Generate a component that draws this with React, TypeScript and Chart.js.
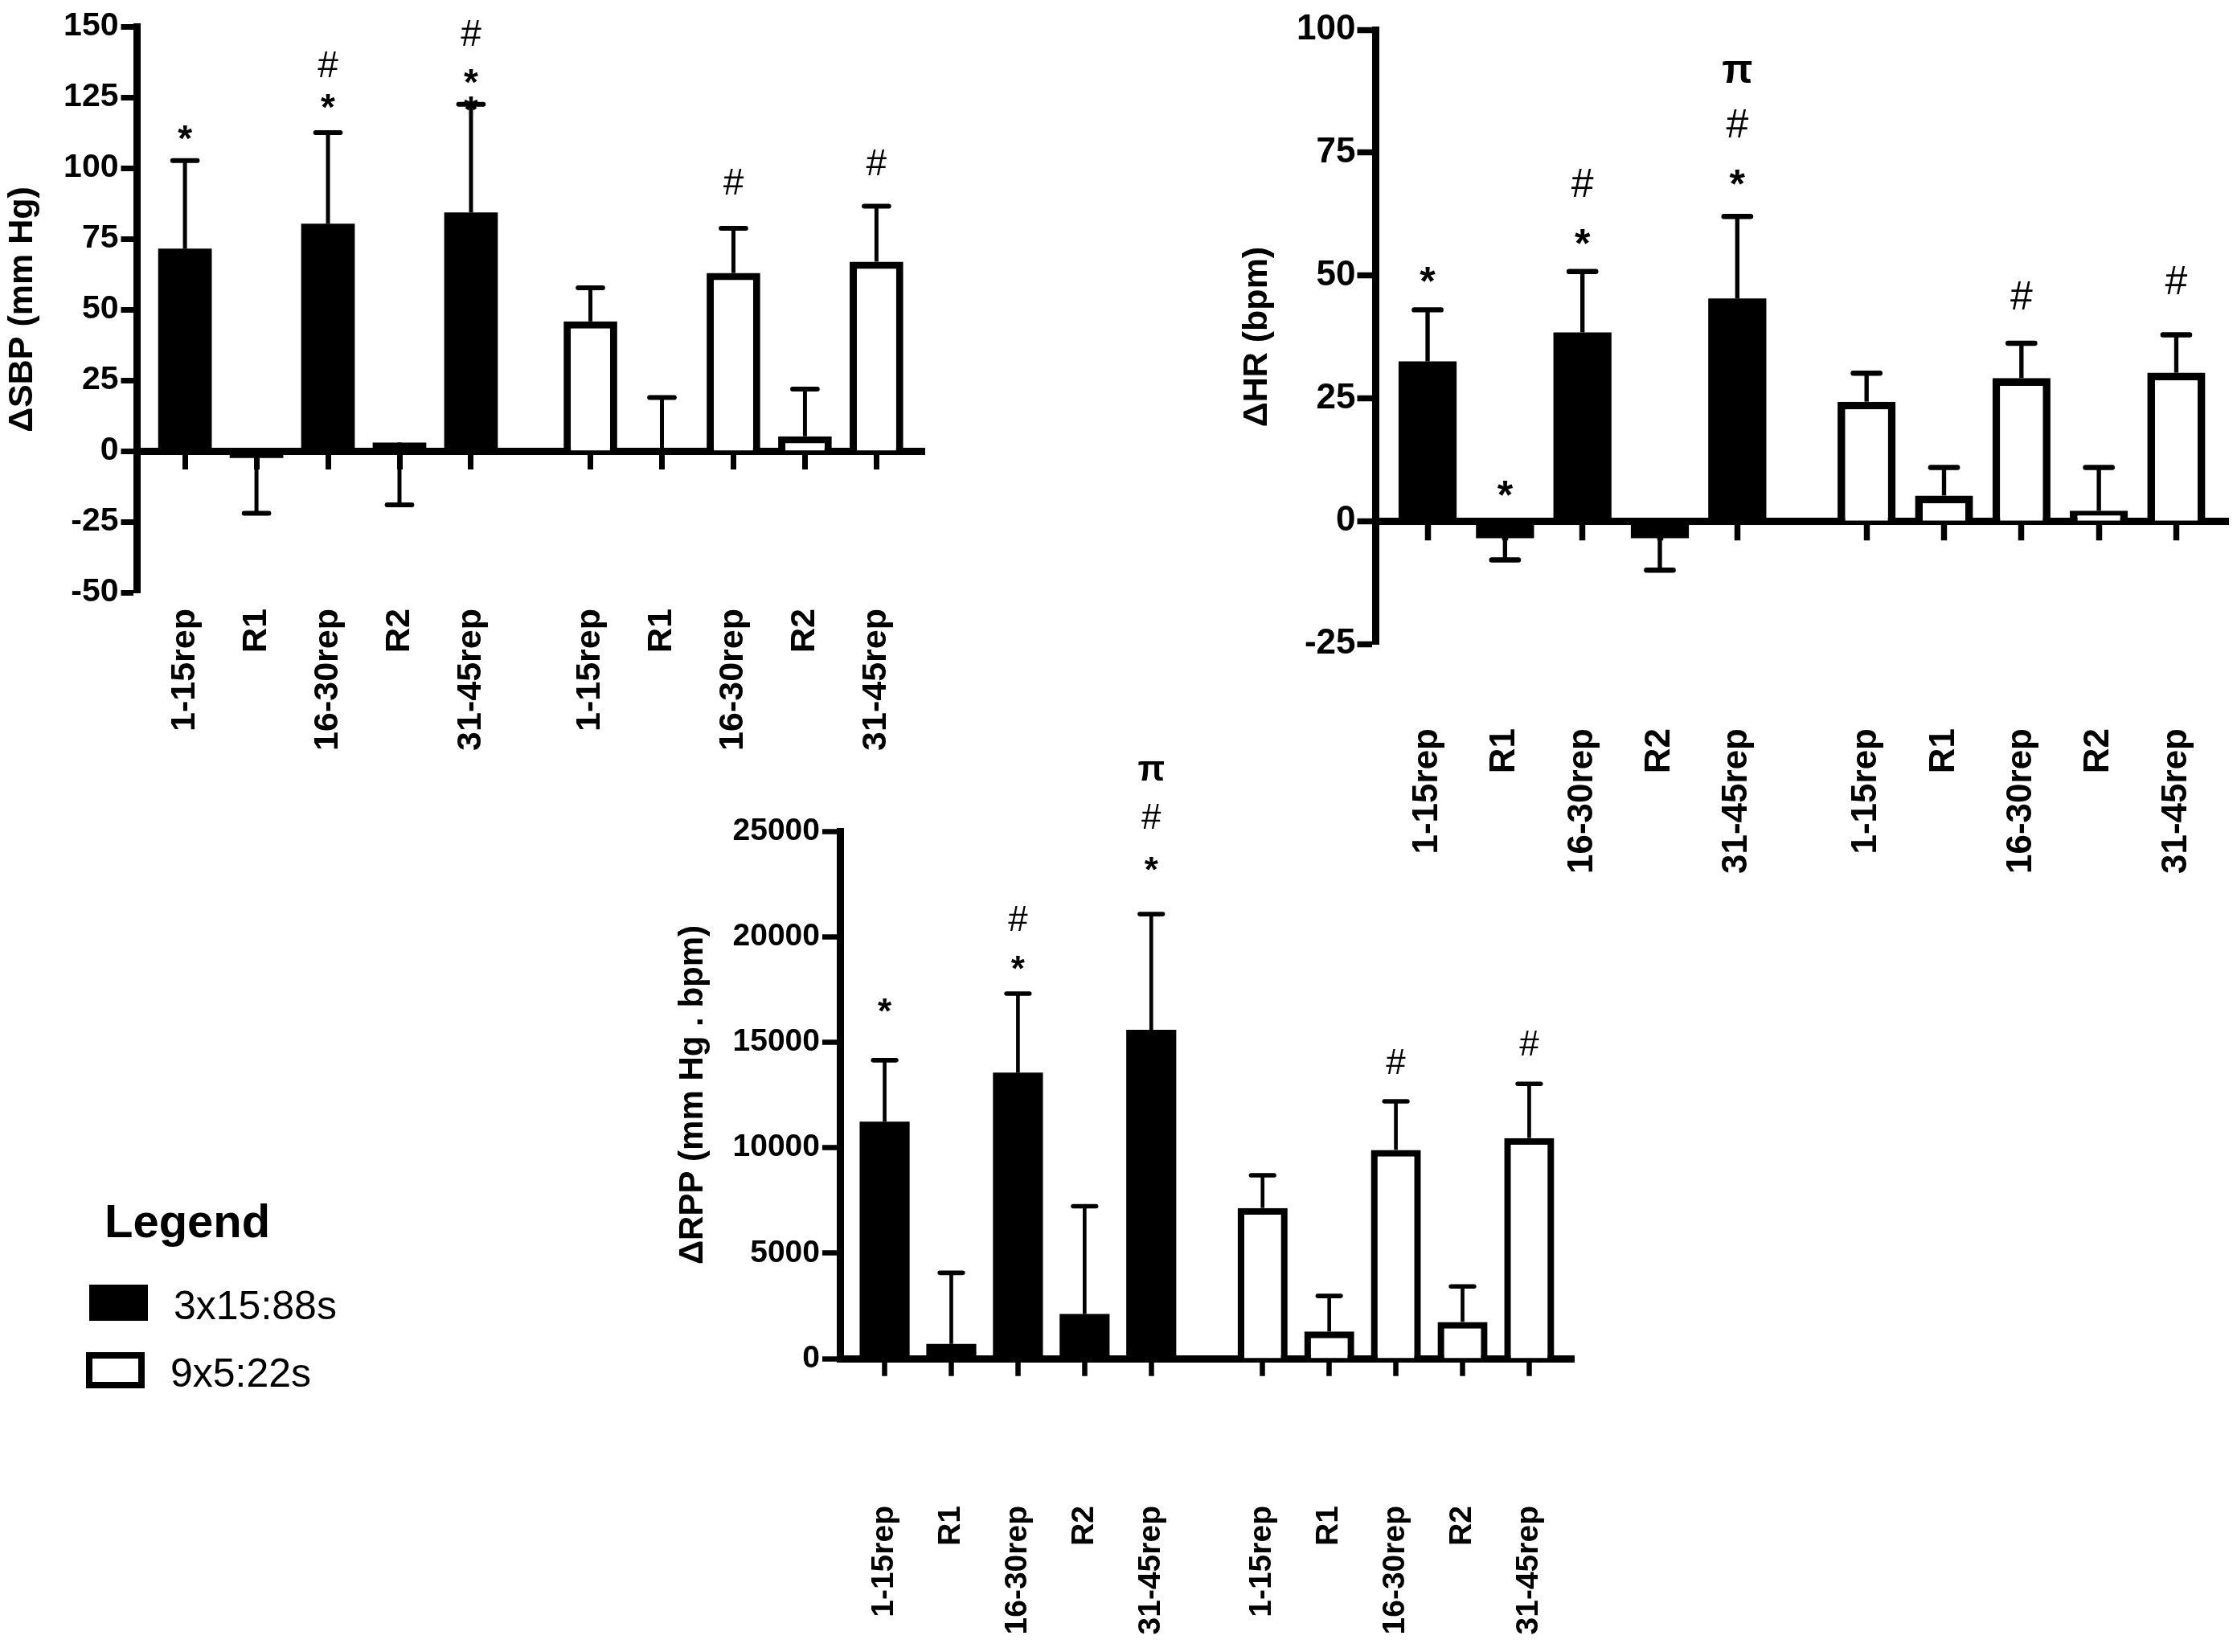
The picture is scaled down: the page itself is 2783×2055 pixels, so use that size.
import { useEffect, useRef } from "react";
import { Chart, registerables } from "chart.js";

Chart.register(...registerables);

const FONT = '"Liberation Sans", Arial, sans-serif';

// shared categories / series
const categories = ["1-15rep", "R1", "16-30rep", "R2", "31-45rep"];
const seriesNames = ["3x15:88s", "9x5:22s"];
const GROUP_GAP = 0.67; // extra space between the two protocol groups (in category units)

type Mark = [string, number];

// ΔSBP (mm Hg)
const sbpTicks = [-50, -25, 0, 25, 50, 75, 100, 125, 150];
const sbpBlack = [71.5, -2.5, 80.3, 3, 84.3];
const sbpBlackErr = [31.1, -19.5, 32.2, -22, 38.2];
const sbpWhite = [45.8, 0, 62.9, 5.2, 66.9];
const sbpWhiteErr = [11.9, 18.9, 15.8, 16.7, 19.6];
const sbpBlackMarks: Mark[][] = [
  [["*", 112.5]],
  [],
  [["*", 123.7], ["#", 136.6]],
  [],
  [["*", 122.8], ["*", 132.3], ["#", 147.8]],
];
const sbpWhiteMarks: Mark[][] = [[], [], [["#", 95.2]], [], [["#", 102.1]]];

// ΔHR (bpm)
const hrTicks = [-25, 0, 25, 50, 75, 100];
const hrBlack = [32.5, -3.5, 38.4, -3.5, 45.3];
const hrBlackErr = [10.5, -4.4, 12.4, -6.5, 16.7];
const hrWhite = [24.3, 5.2, 29.1, 2.1, 30.2];
const hrWhiteErr = [5.8, 5.7, 7.1, 8.8, 7.7];
const hrBlackMarks: Mark[][] = [
  [["*", 50.2]],
  [["*", 6.7]],
  [["*", 57.9], ["#", 68.9]],
  [],
  [["*", 70], ["#", 81], ["π", 91.4]],
];
const hrWhiteMarks: Mark[][] = [[], [], [["#", 45.9]], [], [["#", 49]]];

// ΔRPP (mm Hg . bpm)
const rppTicks = [0, 5000, 10000, 15000, 20000, 25000];
const rppBlack = [11230, 695, 13557, 2112, 15589];
const rppBlackErr = [2915, 3369, 3743, 5108, 5481];
const rppWhite = [7140, 1283, 9894, 1738, 10455];
const rppWhiteErr = [1550, 1685, 2299, 1685, 2567];
const rppBlackMarks: Mark[][] = [
  [["*", 16766]],
  [],
  [["*", 18771], ["#", 20857]],
  [],
  [["*", 23451], ["#", 25724], ["π", 27877]],
];
const rppWhiteMarks: Mark[][] = [[], [], [["#", 14092]], [], [["#", 14948]]];

const groupX = (g: number) =>
  categories.map((_, i) => i + g * (categories.length + GROUP_GAP));
const tickPos = [...groupX(0), ...groupX(1)];
const tickLabels = [...categories, ...categories];
const X_MIN = -GROUP_GAP;
const X_MAX = tickPos[tickPos.length - 1] + GROUP_GAP;

interface Box {
  left: number;
  top: number;
  width: number;
  height: number;
  plotLeft: number;
  plotRight: number;
  plotTop: number;
  plotBottom: number;
  labelTop: number;
  titlePad: number;
  k: number;
  yTickLen: number;
  yTickPad: number;
  fTick: number;
  fTitle: number;
  fLabel: number;
  fMark: number;
}

interface PanelProps {
  title: string;
  yTicks: number[];
  black: number[];
  blackErr: number[];
  white: number[];
  whiteErr: number[];
  blackMarks: Mark[][];
  whiteMarks: Mark[][];
  box: Box;
}

const errorsAndMarks = (p: PanelProps) => ({
  id: "errorsAndMarks",
  afterDatasetsDraw(chart: any) {
    const { ctx } = chart;
    const y = chart.scales.y;
    const errs = [p.blackErr, p.whiteErr];
    const marks = [p.blackMarks, p.whiteMarks];
    ctx.save();
    ctx.strokeStyle = "#000";
    ctx.fillStyle = "#000";
    chart.data.datasets.forEach((ds: any, di: number) => {
      const meta = chart.getDatasetMeta(di);
      meta.data.forEach((bar: any, i: number) => {
        const v = ds.data[i].y;
        const x = bar.x;
        const y0 = y.getPixelForValue(v);
        const y1 = y.getPixelForValue(v + errs[di][i]);
        const half = bar.width * 0.23;
        ctx.lineWidth = 5 * p.box.k;
        ctx.lineCap = "butt";
        ctx.beginPath();
        ctx.moveTo(x, y0);
        ctx.lineTo(x, y1);
        ctx.stroke();
        ctx.lineWidth = 6 * p.box.k;
        ctx.lineCap = "round";
        ctx.beginPath();
        ctx.moveTo(x - half, y1);
        ctx.lineTo(x + half, y1);
        ctx.stroke();

        // significance symbols
        marks[di][i].forEach(([sym, level]) => {
          ctx.font =
            (sym === "#" ? "" : "bold ") + p.box.fMark + "px " + FONT;
          ctx.textAlign = "center";
          ctx.textBaseline = "alphabetic";
          const m = ctx.measureText(sym);
          const c = y.getPixelForValue(level);
          ctx.fillText(
            sym,
            x,
            c + (m.actualBoundingBoxAscent - m.actualBoundingBoxDescent) / 2
          );
        });
      });
    });
    ctx.restore();
  },
});

function buildConfig(p: PanelProps): any {
  const b = p.box;
  const setXTicks = (s: any) => {
    s.ticks = tickPos.map((value) => ({ value }));
  };
  const barStyle = {
    grouped: false,
    barPercentage: 0.75,
    categoryPercentage: 1,
    xAxisID: "x",
    yAxisID: "y",
  };
  return {
    type: "bar",
    data: {
      datasets: [
        {
          label: seriesNames[0],
          data: p.black.map((v, i) => ({ x: groupX(0)[i], y: v })),
          backgroundColor: "#000",
          borderColor: "#000",
          borderWidth: 0,
          ...barStyle,
        },
        {
          label: seriesNames[1],
          data: p.white.map((v, i) => ({ x: groupX(1)[i], y: v })),
          backgroundColor: "#fff",
          borderColor: "#000",
          borderWidth: 9 * b.k,
          ...barStyle,
        },
      ],
    },
    options: {
      responsive: false,
      animation: false,
      devicePixelRatio: 1,
      layout: {
        padding: {
          left: 0,
          top: b.plotTop - b.top,
          right: b.left + b.width - b.plotRight,
          bottom: 0,
        },
      },
      plugins: {
        legend: { display: false },
        tooltip: { enabled: false },
      },
      scales: {
        x: {
          axis: "x",
          type: "linear",
          position: { y: 0 },
          offset: false,
          min: X_MIN,
          max: X_MAX,
          afterBuildTicks: setXTicks,
          ticks: { display: false },
          grid: {
            display: true,
            offset: false,
            drawOnChartArea: false,
            drawTicks: true,
            tickLength: 18 * b.k,
            tickWidth: 7 * b.k,
            color: "#000",
          },
          border: { display: true, width: 9, color: "#000" },
        },
        xl: {
          axis: "x",
          type: "linear",
          position: "bottom",
          offset: false,
          min: X_MIN,
          max: X_MAX,
          afterBuildTicks: setXTicks,
          ticks: {
            autoSkip: false,
            minRotation: 90,
            maxRotation: 90,
            padding: b.labelTop - b.plotBottom,
            color: "#000",
            font: { family: FONT, size: b.fLabel, weight: "bold" },
            callback: (_v: number, i: number) => tickLabels[i],
          },
          grid: { display: false, drawTicks: false, offset: false },
          border: { display: false },
          afterFit: (s: any) => {
            s.height = b.top + b.height - b.plotBottom;
            s.paddingLeft = 0;
            s.paddingRight = 0;
          },
        },
        y: {
          type: "linear",
          position: "left",
          min: p.yTicks[0],
          max: p.yTicks[p.yTicks.length - 1],
          afterBuildTicks: (s: any) => {
            s.ticks = p.yTicks.map((value) => ({ value }));
          },
          ticks: {
            color: "#000",
            padding: b.yTickPad,
            font: { family: FONT, size: b.fTick, weight: "bold" },
            callback: (v: number) => String(v),
          },
          grid: {
            display: true,
            drawOnChartArea: false,
            drawTicks: true,
            tickLength: b.yTickLen,
            tickWidth: 7 * b.k,
            color: "#000",
          },
          border: { display: true, width: 9, color: "#000" },
          title: {
            display: true,
            text: p.title,
            color: "#000",
            font: { family: FONT, size: b.fTitle, weight: "bold" },
            padding: { top: b.titlePad, bottom: 0 },
          },
          afterFit: (s: any) => {
            s.width = b.plotLeft - b.left;
            s.paddingTop = 0;
            s.paddingBottom = 0;
          },
        },
      },
    },
    plugins: [errorsAndMarks(p)],
  };
}

function BarPanel(p: PanelProps) {
  const canvasRef = useRef<HTMLCanvasElement | null>(null);

  useEffect(() => {
    if (!canvasRef.current) return;
    const chart = new Chart(canvasRef.current, buildConfig(p));
    return () => {
      chart.destroy();
    };
  }, []);

  const b = p.box;
  return (
    <canvas
      ref={canvasRef}
      width={b.width}
      height={b.height}
      style={{
        position: "absolute",
        left: b.left,
        top: b.top,
        width: b.width,
        height: b.height,
      }}
    />
  );
}

const sbpBox: Box = {
  left: 0,
  top: 0,
  width: 1180,
  height: 950,
  plotLeft: 170.5,
  plotRight: 1150,
  plotTop: 33,
  plotBottom: 737,
  labelTop: 757,
  titlePad: 2,
  k: 1,
  yTickLen: 20,
  yTickPad: 3,
  fTick: 41,
  fTitle: 43,
  fLabel: 43,
  fMark: 46,
};

const hrBox: Box = {
  left: 1538,
  top: 0,
  width: 1245,
  height: 1110,
  plotLeft: 1711.5,
  plotRight: 2772,
  plotTop: 37,
  plotBottom: 801,
  labelTop: 906,
  titlePad: 0,
  k: 1.07,
  yTickLen: 23,
  yTickPad: 2,
  fTick: 44,
  fTitle: 43,
  fLabel: 44,
  fMark: 50,
};

const rppBox: Box = {
  left: 820,
  top: 900,
  width: 1170,
  height: 1155,
  plotLeft: 1045,
  plotRight: 1958,
  plotTop: 1034,
  plotBottom: 1690,
  labelTop: 1873,
  titlePad: 17,
  k: 0.93,
  yTickLen: 22,
  yTickPad: 3,
  fTick: 39,
  fTitle: 42,
  fLabel: 39,
  fMark: 44,
};

const abs = (left: number, top: number, extra: any = {}) => ({
  position: "absolute" as const,
  left,
  top,
  ...extra,
});

export default function App() {
  return (
    <div
      style={{
        position: "absolute",
        left: 0,
        top: 0,
        width: 2783,
        height: 2055,
        overflow: "hidden",
        background: "#fff",
        fontFamily: FONT,
        color: "#000",
      }}
    >
      <BarPanel
        title="ΔSBP (mm Hg)"
        yTicks={sbpTicks}
        black={sbpBlack}
        blackErr={sbpBlackErr}
        white={sbpWhite}
        whiteErr={sbpWhiteErr}
        blackMarks={sbpBlackMarks}
        whiteMarks={sbpWhiteMarks}
        box={sbpBox}
      />
      <BarPanel
        title="ΔHR (bpm)"
        yTicks={hrTicks}
        black={hrBlack}
        blackErr={hrBlackErr}
        white={hrWhite}
        whiteErr={hrWhiteErr}
        blackMarks={hrBlackMarks}
        whiteMarks={hrWhiteMarks}
        box={hrBox}
      />
      <BarPanel
        title="ΔRPP (mm Hg . bpm)"
        yTicks={rppTicks}
        black={rppBlack}
        blackErr={rppBlackErr}
        white={rppWhite}
        whiteErr={rppWhiteErr}
        blackMarks={rppBlackMarks}
        whiteMarks={rppWhiteMarks}
        box={rppBox}
      />

      {/* legend */}
      <div
        style={abs(130, 1490, {
          fontSize: 58,
          lineHeight: "58px",
          fontWeight: "bold",
          whiteSpace: "nowrap",
        })}
      >
        Legend
      </div>
      <div style={abs(111, 1598, { width: 73, height: 45, background: "#000" })} />
      <div
        style={abs(216, 1599, {
          fontSize: 50,
          lineHeight: "50px",
          whiteSpace: "nowrap",
        })}
      >
        {seriesNames[0]}
      </div>
      <div
        style={abs(107, 1682, {
          width: 73,
          height: 45,
          border: "8px solid #000",
          boxSizing: "border-box",
          background: "#fff",
        })}
      />
      <div
        style={abs(212, 1683, {
          fontSize: 50,
          lineHeight: "50px",
          whiteSpace: "nowrap",
        })}
      >
        {seriesNames[1]}
      </div>
    </div>
  );
}
